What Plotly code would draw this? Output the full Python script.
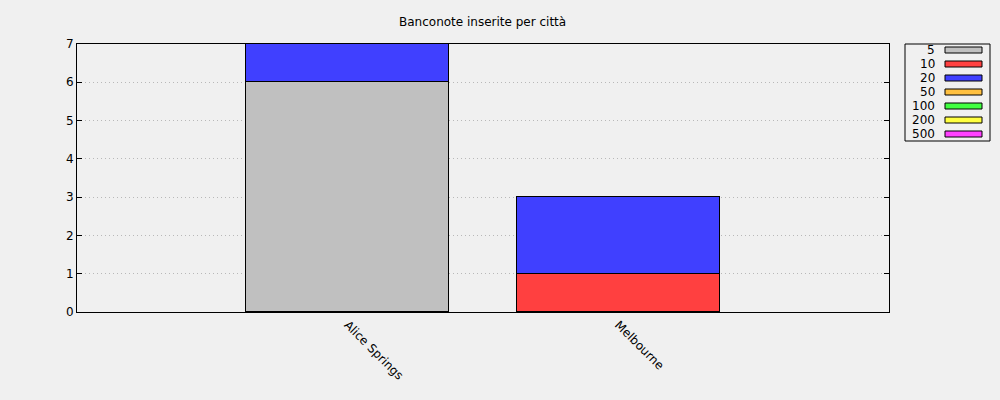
import plotly.graph_objects as go

cities = ["Alice Springs", "Melbourne"]
denominations = ["5", "10", "20", "50", "100", "200", "500"]
counts_5 = [6, 0]
counts_10 = [0, 1]
counts_20 = [1, 2]
counts_50 = [0, 0]
counts_100 = [0, 0]
counts_200 = [0, 0]
counts_500 = [0, 0]
series = [counts_5, counts_10, counts_20, counts_50, counts_100, counts_200, counts_500]
colors = ["#c0c0c0", "#ff4040", "#4040ff", "#ffc040", "#40ff40", "#ffff40", "#ff40ff"]
y_ticks = [0, 1, 2, 3, 4, 5, 6, 7]
title = "Banconote inserite per città"

W, H = 1000, 400
L, R, T, B = 77, 889, 44, 312
FONT = "DejaVu Sans"

fig = go.Figure()
for name, vals, col in zip(denominations, series, colors):
    fig.add_trace(go.Bar(
        x=list(range(len(cities))), y=vals, name=name,
        marker=dict(color=col,
                    line=dict(color="black", width=[1 if v else 0 for v in vals])),
        width=0.75, showlegend=False,
    ))

def px(x):
    return (x - L) / (R - L)

def py(y):
    return (B - y) / (B - T)

shapes = [dict(type="rect", xref="paper", yref="paper",
               x0=px(905), x1=px(990), y0=py(141), y1=py(44),
               line=dict(color="black", width=1), fillcolor="#f0f0f0")]
annotations = [dict(text=title, xref="paper", yref="paper",
                    x=0.5 * (px(76) + px(889)), y=py(22), showarrow=False,
                    xanchor="center", yanchor="middle",
                    font=dict(family=FONT, size=12, color="black"))]
for i, (name, col) in enumerate(zip(denominations, colors)):
    cy = 50 + 14 * i
    shapes.append(dict(type="rect", xref="paper", yref="paper",
                       x0=px(945), x1=px(982), y0=py(cy + 3), y1=py(cy - 3),
                       line=dict(color="black", width=1), fillcolor=col))
    annotations.append(dict(text=name, xref="paper", yref="paper",
                            x=px(937), y=py(cy), showarrow=False,
                            xanchor="right", yanchor="middle",
                            font=dict(family=FONT, size=12, color="black")))

fig.update_layout(
    width=W, height=H,
    margin=dict(l=L, r=W - R, t=T, b=H - B, pad=0),
    barmode="stack", bargap=0,
    paper_bgcolor="#f0f0f0", plot_bgcolor="#f0f0f0",
    font=dict(family=FONT, size=12, color="black"),
    shapes=shapes, annotations=annotations,
    xaxis=dict(range=[-1, 2], tickmode="array",
               tickvals=list(range(len(cities))), ticktext=cities,
               tickangle=45, showgrid=False, zeroline=False,
               showline=True, linecolor="black", linewidth=1, mirror=True,
               ticks="", fixedrange=True),
    yaxis=dict(range=[0, 7], tickmode="array", tickvals=y_ticks,
               showgrid=True, gridcolor="#b8b8b8", griddash="1px,3px", gridwidth=1,
               zeroline=False, showline=True, linecolor="black", linewidth=1,
               mirror="allticks", ticks="inside", ticklen=5, tickcolor="black",
               fixedrange=True),
)

fig.write_html("out.html")
